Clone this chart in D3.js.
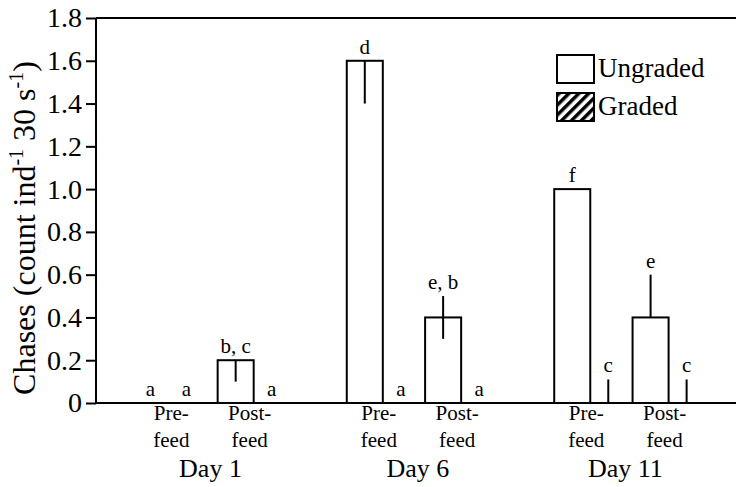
<!DOCTYPE html>
<html>
<head>
<meta charset="utf-8">
<script src="https://cdn.jsdelivr.net/npm/d3@7"></script>
<style>
  body { margin: 0; background: #fff; }
</style>
</head>
<body>
<div id="chart"></div>
<script>
'use strict'

// generic serif maps to Liberation Serif here
const serif = 'serif'

// chart data
const days = ['Day 1', 'Day 6', 'Day 11']
const feeds = ['Pre', 'Post']
const groups = ['Ungraded', 'Graded']
const yTicks = [0, 0.2, 0.4, 0.6, 0.8, 1.0, 1.2, 1.4, 1.6, 1.8]

// one value per day x feed, in order Day1 Pre, Day1 Post, Day6 Pre, ...
const ungradedMean = [0, 0.2, 1.6, 0.4, 1.0, 0.4]
const ungradedErrUp = [0, 0, 0, 0.1, 0, 0.2]
const ungradedErrDown = [0, 0.1, 0.2, 0.1, 0, 0]
const ungradedLetters = ['a', 'b, c', 'd', 'e, b', 'f', 'e']

const gradedMean = [0, 0, 0, 0, 0, 0]
const gradedErrUp = [0, 0, 0, 0, 0.11, 0.11]
const gradedErrDown = [0, 0, 0, 0, 0, 0]
const gradedLetters = ['a', 'a', 'a', 'a', 'c', 'c']

// sets dimension and margins of graph
const W = 736, H = 487
const margin = { top: 18, right: 0, bottom: 84, left: 96 }
const width = W - margin.left - margin.right
const height = H - margin.top - margin.bottom

const svg = d3.select('#chart')
  .append('svg')
    .attr('width', W)
    .attr('height', H)
    .style('font-family', serif)

const defs = svg.append('defs')
defs.append('pattern')
    .attr('id', 'hatch')
    .attr('patternUnits', 'userSpaceOnUse')
    .attr('width', 7)
    .attr('height', 7)
    .attr('patternTransform', 'rotate(45)')
  .append('rect')
    .attr('width', 3.5)
    .attr('height', 7)
    .attr('fill', '#000')

const g = svg.append('g')
    .attr('transform', `translate(${margin.left}, ${margin.top})`)

// scales: day -> feed -> group
const x0 = d3.scaleBand().domain(days).range([0, width]).paddingInner(0.275).paddingOuter(0.18).align(0.58)
const x1 = d3.scaleBand().domain(feeds).range([0, x0.bandwidth()]).paddingInner(0.08)
const x2 = d3.scaleBand().domain(groups).range([0, x1.bandwidth()])
const y = d3.scaleLinear().domain([0, 1.8]).range([height, 0])

// build rows from the arrays
const rows = []
days.forEach((day, i) => {
  feeds.forEach((feed, j) => {
    const k = i * feeds.length + j
    rows.push({ day, feed, group: 'Ungraded', mean: ungradedMean[k], up: ungradedErrUp[k], down: ungradedErrDown[k], letter: ungradedLetters[k] })
    rows.push({ day, feed, group: 'Graded', mean: gradedMean[k], up: gradedErrUp[k], down: gradedErrDown[k], letter: gradedLetters[k] })
  })
})
const xPos = d => x0(d.day) + x1(d.feed) + x2(d.group)

// bars
g.selectAll('rect.bar')
  .data(rows.filter(d => d.mean > 0))
  .join('rect')
    .attr('class', 'bar')
    .attr('x', xPos)
    .attr('y', d => y(d.mean))
    .attr('width', x2.bandwidth())
    .attr('height', d => y(0) - y(d.mean))
    .attr('fill', d => d.group === 'Graded' ? 'url(#hatch)' : '#fff')
    .attr('stroke', '#000')
    .attr('stroke-width', 2)

// error bars, no caps
g.selectAll('line.err')
  .data(rows.filter(d => d.up > 0 || d.down > 0))
  .join('line')
    .attr('class', 'err')
    .attr('x1', d => xPos(d) + x2.bandwidth() / 2)
    .attr('x2', d => xPos(d) + x2.bandwidth() / 2)
    .attr('y1', d => y(d.mean - d.down))
    .attr('y2', d => y(d.mean + d.up))
    .attr('stroke', '#000')
    .attr('stroke-width', 2)

// significance letters
g.selectAll('text.letter')
  .data(rows)
  .join('text')
    .attr('class', 'letter')
    .attr('x', d => xPos(d) + x2.bandwidth() / 2 - (d.day === 'Day 1' && d.feed === 'Pre' ? 7 : 0))
    .attr('y', d => y(d.mean + d.up) - 7)
    .attr('text-anchor', 'middle')
    .style('font-family', serif)
    .style('font-size', '21px')
    .text(d => d.letter)

// y axis
const yAxis = g.append('g')
  .call(d3.axisLeft(y)
    .tickValues(yTicks)
    .tickSize(10)
    .tickPadding(4)
    .tickFormat(d => d === 0 ? '0' : d3.format('.1f')(d)))
yAxis.attr('font-family', null).attr('font-size', null)
yAxis.select('.domain').attr('stroke-width', 2).attr('d', `M0,${height}V0`)
yAxis.selectAll('.tick line').attr('stroke-width', 2)
yAxis.selectAll('.tick text')
    .attr('fill', '#000')
    .style('font-family', serif)
    .style('font-size', '28px')

// top and bottom frame lines
g.append('line')
    .attr('x1', 0).attr('x2', width)
    .attr('y1', y(0)).attr('y2', y(0))
    .attr('stroke', '#000').attr('stroke-width', 2)
g.append('line')
    .attr('x1', 0).attr('x2', width)
    .attr('y1', y(1.8)).attr('y2', y(1.8))
    .attr('stroke', '#000').attr('stroke-width', 2)

// x labels: feed then day
const feedLabel = g.selectAll('g.feed')
  .data(days.flatMap(day => feeds.map(feed => ({ day, feed }))))
  .join('g')
    .attr('class', 'feed')
    .attr('transform', d => `translate(${x0(d.day) + x1(d.feed) + x1.bandwidth() / 2 - 4}, ${height})`)
feedLabel.append('text')
    .attr('y', 17)
    .attr('text-anchor', 'middle')
    .style('font-family', serif)
    .style('font-size', '21px')
    .text(d => d.feed + '-')
feedLabel.append('text')
    .attr('y', 44)
    .attr('text-anchor', 'middle')
    .style('font-family', serif)
    .style('font-size', '21px')
    .text('feed')

g.selectAll('text.day')
  .data(days)
  .join('text')
    .attr('class', 'day')
    .attr('x', d => x0(d) + x0.bandwidth() / 2 - 4)
    .attr('y', height + 74)
    .attr('text-anchor', 'middle')
    .style('font-family', serif)
    .style('font-size', '26px')
    .text(d => d)

// y axis title with superscripts
const title = svg.append('text')
    .attr('transform', 'translate(35, 228) rotate(-90)')
    .attr('text-anchor', 'middle')
    .style('font-family', serif)
    .style('font-size', '32px')
title.append('tspan').text('Chases (count ind')
title.append('tspan').attr('dy', -12).style('font-size', '20px').text('-1')
title.append('tspan').attr('dy', 12).text(' 30 s')
title.append('tspan').attr('dy', -12).style('font-size', '20px').text('-1')
title.append('tspan').attr('dy', 12).text(')')

// legend
const legend = svg.append('g').attr('transform', 'translate(557, 55)')
const legendItem = legend.selectAll('g')
  .data(groups)
  .join('g')
    .attr('transform', (d, i) => `translate(0, ${i * 38})`)
legendItem.append('rect')
    .attr('width', 37)
    .attr('height', 28)
    .attr('fill', d => d === 'Graded' ? 'url(#hatch)' : '#fff')
    .attr('stroke', '#000')
    .attr('stroke-width', 2)
legendItem.append('text')
    .attr('x', 41)
    .attr('y', 22)
    .style('font-family', serif)
    .style('font-size', '27px')
    .text(d => d)
</script>
</body>
</html>
